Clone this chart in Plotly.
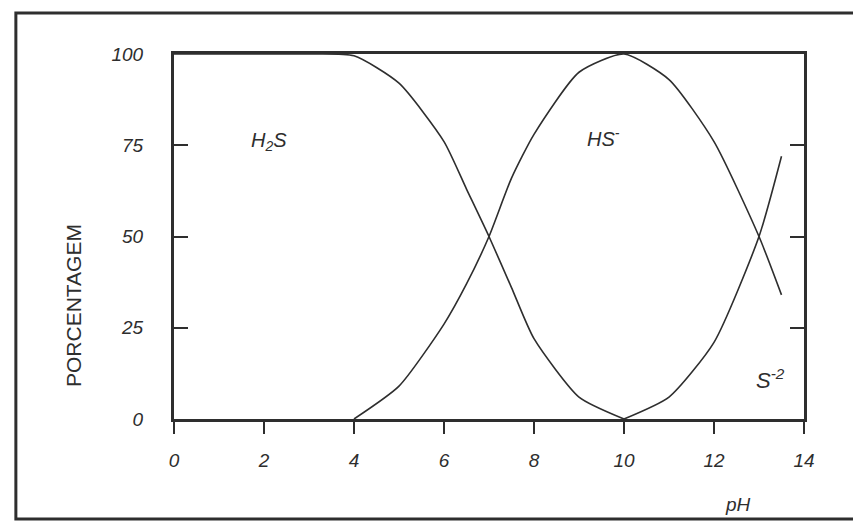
import plotly.graph_objects as go

# Data
ph_h2s = [0, 1, 2, 3, 4, 5, 6, 6.5, 7, 7.5, 8, 9, 10]
pct_h2s = [100, 100, 100, 100, 99.5, 92, 76, 63, 50, 36, 22, 6, 0]

ph_hs = [4, 5, 6, 6.5, 7, 7.5, 8, 9, 10, 11, 12, 13, 13.5]
pct_hs = [0, 9, 26, 37, 50, 66, 78, 95, 100, 93, 76, 50, 34]

ph_s2 = [10, 11, 12, 13, 13.5]
pct_s2 = [0, 6, 21, 50, 72]

x_ticks = [0, 2, 4, 6, 8, 10, 12, 14]
y_ticks = [0, 25, 50, 75, 100]

INK = "#2e2e2e"
FONT = "Liberation Sans, Arial, sans-serif"

fig = go.Figure()
for xs, ys in [(ph_h2s, pct_h2s), (ph_hs, pct_hs), (ph_s2, pct_s2)]:
    fig.add_trace(go.Scatter(x=xs, y=ys, mode="lines",
                             line=dict(color=INK, width=1.6, shape="spline", smoothing=0.6),
                             hoverinfo="skip", showlegend=False))

fig.update_layout(
    width=861, height=526,
    margin=dict(l=166, r=65, t=46, b=115),
    paper_bgcolor="white", plot_bgcolor="white",
    font=dict(family=FONT, color=INK, size=19),
    xaxis=dict(range=[0, 14], tickvals=x_ticks, ticks="outside", ticklen=12,
               tickwidth=2, tickcolor=INK, showline=True, linecolor=INK, linewidth=3,
               mirror=True, showgrid=False, zeroline=False,
               tickfont=dict(family=FONT, size=19, color=INK, style="italic"),
               ticklabelstandoff=10),
    yaxis=dict(range=[0, 100], tickvals=y_ticks, ticks="inside", ticklen=14,
               tickwidth=2, tickcolor=INK, showline=True, linecolor=INK, linewidth=3,
               mirror="ticks", showgrid=False, zeroline=False,
               tickfont=dict(family=FONT, size=19, color=INK, style="italic"),
               ticklabelstandoff=24),
)

# Outer frame
fig.add_shape(type="rect", xref="paper", yref="paper",
              x0=-0.251, x1=1.083, y0=-0.274, y1=1.112,
              line=dict(color=INK, width=3), layer="below")

def ann(text, x, y, size=19, angle=0, xref="paper", yref="paper", style="italic"):
    fig.add_annotation(text=text, x=x, y=y, xref=xref, yref=yref, showarrow=False,
                       textangle=angle, xanchor="center", yanchor="middle",
                       font=dict(family=FONT, size=size, color=INK, style=style))

ann("H<sub>2</sub>S", 2.1, 76, size=20, xref="x", yref="y")
ann("HS<sup>-</sup>", 9.55, 77, size=20, xref="x", yref="y")
ann("S<sup>-2</sup>", 13.25, 11, size=22, xref="x", yref="y")
ann("pH", (737 - 173) / 630, (418 - 503) / 365, size=19)
ann("PORCENTAGEM", (72 - 173) / 630, (418 - 304) / 365, size=21, angle=-90, style="normal")

fig.write_html("out.html")
